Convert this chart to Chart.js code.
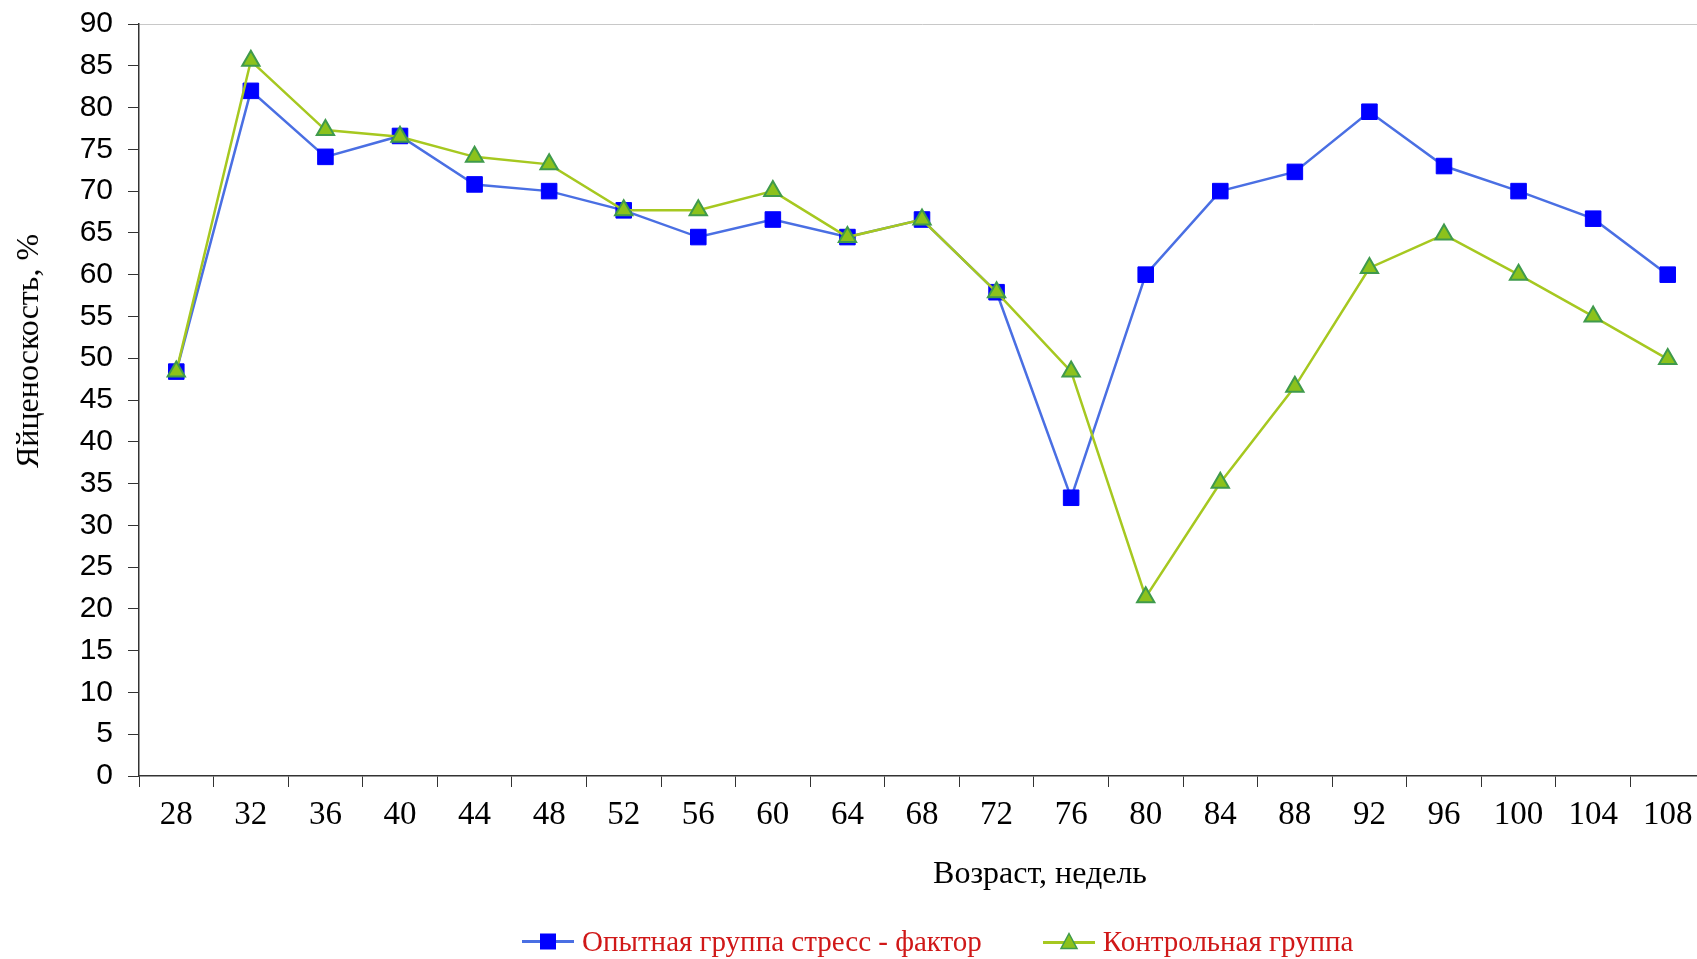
<!DOCTYPE html>
<html lang="ru">
<head>
<meta charset="utf-8">
<script src="https://cdn.jsdelivr.net/npm/chart.js@4/dist/chart.umd.min.js"></script>
<style>
  body { margin: 0; overflow: hidden; background: #fff; width: 1697px; height: 959px; position: relative; }
  #wrap { position: absolute; left: 0; top: 0; width: 1717px; height: 959px; }
  .ttl { position: absolute; font-family: "Liberation Serif", serif; color: #000; white-space: nowrap; line-height: 1; }
  #ytitle { font-size: 32px; left: 27px; top: 351px; transform: translate(-50%, -50%) rotate(-90deg); }
  #xtitle { font-size: 32px; left: 1040px; top: 872px; transform: translate(-50%, -50%); }
  #legend { position: absolute; left: 522px; top: 941px; transform: translateY(-50%); display: flex; align-items: center; }
  .item { display: flex; align-items: center; margin-right: 61px; }
  .item span { font-family: "Liberation Serif", serif; font-size: 29px; color: #d01818; margin-left: 8px; line-height: 1; }
</style>
</head>
<body>
<div id="wrap"><canvas id="myChart" width="1717" height="959"></canvas></div>
<div class="ttl" id="ytitle">Яйценоскость, %</div>
<div class="ttl" id="xtitle">Возраст, недель</div>
<div id="legend"></div>
<script>
// возраст, недель
const weeks = ["28", "32", "36", "40", "44", "48", "52", "56", "60", "64", "68",
               "72", "76", "80", "84", "88", "92", "96", "100", "104", "108"];

// яйценоскость, %
const stressGroup = [48.4, 82.0, 74.1, 76.6, 70.8, 70.0, 67.7, 64.5, 66.6, 64.5, 66.6,
                     57.9, 33.3, 60.0, 70.0, 72.3, 79.5, 73.0, 70.0, 66.7, 60.0];
const controlGroup = [48.4, 85.6, 77.3, 76.5, 74.1, 73.2, 67.7, 67.7, 70.0, 64.5, 66.6,
                      57.9, 48.4, 21.4, 35.1, 46.6, 60.8, 64.8, 60.0, 55.0, 49.9];

const seriesNames = ["Опытная группа стресс - фактор", "Контрольная группа"];
const yTicksMin = 0, yTicksMax = 90, yStep = 5;

const blueLine = '#4a6fe3';
const greenLine = '#a6c820';

const data = {
  labels: weeks,
  datasets: [{
    label: seriesNames[0],
    data: stressGroup,
    borderColor: blueLine,
    borderWidth: 2.5,
    pointStyle: 'rect',
    pointRadius: 11,
    pointBackgroundColor: '#0000ff',
    pointBorderColor: '#0000ff',
    pointBorderWidth: 1,
    tension: 0,
    order: 1
  }, {
    label: seriesNames[1],
    data: controlGroup,
    borderColor: greenLine,
    borderWidth: 2.5,
    pointStyle: 'triangle',
    pointRadius: 10,
    pointBackgroundColor: '#8cc21c',
    pointBorderColor: '#3f9a4c',
    pointBorderWidth: 2,
    tension: 0,
    order: 0
  }]
};

const config = {
  type: 'line',
  data: data,
  options: {
    responsive: false,
    animation: false,
    layout: { padding: { top: 24, left: 0, right: 0, bottom: 0 } },
    plugins: { legend: { display: false }, tooltip: { enabled: false } },
    scales: {
      x: {
        type: 'category',
        offset: true,
        afterFit: function (scale) { scale.height = 183; },
        border: { display: true, color: '#333', width: 1.5 },
        grid: { offset: true, drawOnChartArea: false, tickColor: '#333', tickLength: 11 },
        ticks: {
          color: '#000',
          padding: 9,
          maxRotation: 0,
          autoSkip: false,
          font: { family: 'Liberation Serif', size: 33 }
        }
      },
      y: {
        min: yTicksMin,
        max: yTicksMax,
        afterFit: function (scale) {
          scale.width = 139;
          scale.paddingTop = 0; // plot top fixed by layout padding
          scale.paddingBottom = 0;
        },
        border: { display: true, color: '#333', width: 1.5 },
        grid: {
          color: function (ctx) { return ctx.tick && ctx.tick.value === yTicksMax ? '#c8c8c8' : 'rgba(0,0,0,0)'; },
          tickColor: '#333',
          tickLength: 11
        },
        ticks: {
          stepSize: yStep,
          color: '#000',
          padding: 15,
          font: { family: 'Liberation Sans', size: 30 }
        }
      }
    }
  }
};

const myChart = new Chart(document.getElementById('myChart'), config);

// легенда (html)
const legend = document.getElementById('legend');
const markers = [
  '<svg width="52" height="20"><line x1="0" y1="10" x2="52" y2="10" stroke="' + blueLine + '" stroke-width="3"/>' +
  '<rect x="18" y="2" width="16" height="16" fill="#0000ff"/></svg>',
  '<svg width="52" height="20"><line x1="0" y1="11" x2="52" y2="11" stroke="' + greenLine + '" stroke-width="3"/>' +
  '<polygon points="26,2 34,17 18,17" fill="#8cc21c" stroke="#3f9a4c" stroke-width="1.5"/></svg>'
];
seriesNames.forEach(function (name, i) {
  const item = document.createElement('div');
  item.className = 'item';
  item.innerHTML = markers[i] + '<span>' + name + '</span>';
  legend.appendChild(item);
});
</script>
</body>
</html>
